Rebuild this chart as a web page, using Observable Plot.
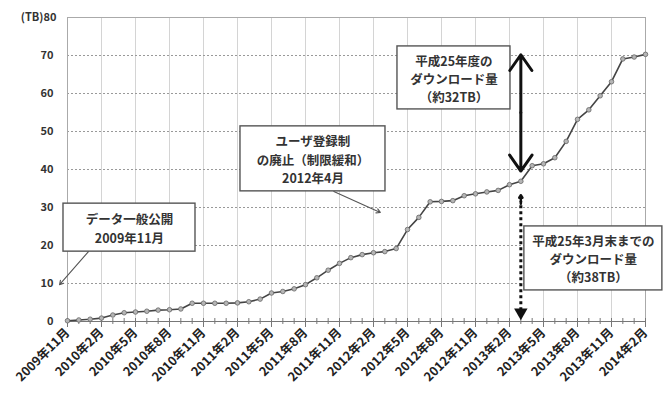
<!DOCTYPE html>
<html>
<head>
<meta charset="utf-8">
<script src="https://cdn.jsdelivr.net/npm/d3@7"></script>
<script src="https://cdn.jsdelivr.net/npm/@observablehq/plot@0.6"></script>
<style>
  html, body { margin: 0; padding: 0; background: #fff; }
</style>
</head>
<body>
<div id="chart"></div>
<script>
// Monthly cumulative download volume (TB), 2009年11月 .. 2014年2月
const values = [
  0.2, 0.4, 0.6, 0.9, 1.7, 2.3, 2.5, 2.7, 3.0, 3.1, 3.3, 4.8,
  4.8, 4.8, 4.8, 4.9, 5.2, 5.9, 7.5, 7.9, 8.6, 9.7, 11.5, 13.5,
  15.3, 16.8, 17.6, 18.1, 18.4, 19.2, 24.2, 27.4, 31.5, 31.6, 31.8, 33.1,
  33.6, 34.1, 34.5, 36.0, 36.9, 41.0, 41.5, 43.1, 47.4, 53.2, 55.7, 59.4,
  63.1, 69.1, 69.6, 70.3
];
const tickLabels = [
  "2009年11月", "2010年2月", "2010年5月", "2010年8月", "2010年11月",
  "2011年2月", "2011年5月", "2011年8月", "2011年11月", "2012年2月",
  "2012年5月", "2012年8月", "2012年11月", "2013年2月", "2013年5月",
  "2013年8月", "2013年11月", "2014年2月"
];
const yTicks = [0, 10, 20, 30, 40, 50, 60, 70];
const yTop = 80;

// annotation texts (anchored in data coordinates: month index, TB)
const noteTexts = [
  "データ一般公開\n2009年11月",
  "ユーザ登録制\nの廃止（制限緩和）\n2012年4月",
  "平成25年度の\nダウンロード量\n（約32TB）",
  "平成25年3月末までの\nダウンロード量\n（約38TB）"
];
const noteX = [5.47, 21.66, 34.1, 46.4];
const noteY = [24.7, 42.8, 64.1, 16.6];
const marchIdx = 40; // 2013年3月

const data = values.map((v, i) => ({i, v}));
const tickIdx = tickLabels.map((_, k) => k * 3);
const months = d3.range(values.length);

const FONT = "'Noto Sans CJK JP', 'Noto Sans', sans-serif";
const boxSize = [[132, 48, 1.5], [145, 65, 1.46], [113, 63, 1.46], [138, 64, 1.46]];

const noteMarks = noteTexts.flatMap((t, k) => {
  const [w, h, lh] = boxSize[k];
  const d = [{x: noteX[k], y: noteY[k], t}];
  return [
    Plot.rect(d, {x1: "x", x2: "x", y1: "y", y2: "y",
      insetLeft: -w / 2, insetRight: -w / 2, insetTop: -h / 2, insetBottom: -h / 2,
      fill: "white", stroke: "#555", strokeWidth: 1.4}),
    Plot.text(d, {x: "x", y: "y", text: "t", lineHeight: lh,
      fontSize: 12.5, fontWeight: "bold", fill: "#333"})
  ];
});

const chart = Plot.plot({
  width: 668,
  height: 397,
  marginLeft: 67,
  marginRight: 23,
  marginTop: 17,
  marginBottom: 76,
  style: {fontFamily: FONT, background: "#fff", color: "#222"},
  x: {domain: [0, values.length - 1]},
  y: {domain: [0, yTop]},
  marks: [
    Plot.ruleX(tickIdx, {stroke: "#d4d4d4", strokeWidth: 1}),
    Plot.ruleY(yTicks.filter(d => d > 0), {stroke: "#999", strokeDasharray: "2,2", strokeWidth: 1}),
    Plot.frame({stroke: "#aaa"}),
    Plot.ruleY([0], {stroke: "#777", strokeWidth: 1.2}),
    Plot.ruleX(months, {y1: 0, y2: 0, insetTop: -3, insetBottom: -3, stroke: "#777"}),
    Plot.ruleX(tickIdx, {y1: 0, y2: 0, insetBottom: -6, stroke: "#777"}),
    Plot.axisY({ticks: yTicks, tickSize: 0, tickPadding: 14, fontSize: 11, fontWeight: "bold", color: "#333", label: null}),
    Plot.axisY({ticks: [yTop], tickSize: 0, tickPadding: 11, tickFormat: d => "(TB)" + d, fontSize: 11, fontWeight: "bold", color: "#333", label: null}),
    Plot.axisX({ticks: tickIdx, tickSize: 0, tickPadding: 9, tickRotate: -45,
      tickFormat: i => tickLabels[i / 3], fontSize: 12.5, fontWeight: "bold", color: "#222", label: null}),
    Plot.line(data, {x: "i", y: "v", stroke: "#444", strokeWidth: 1.6}),
    Plot.dot(data, {x: "i", y: "v", r: 2.3, fill: "#b5b5b5", stroke: "#666", strokeWidth: 0.8}),
    ...noteMarks,
    // arrows from boxes
    Plot.arrow([{x1: 1.85, y1: 18.4, x2: -0.7, y2: 9.7}], {x1: "x1", y1: "y1", x2: "x2", y2: "y2",
      stroke: "#555", strokeWidth: 1.1, headLength: 6}),
    Plot.arrow([{x1: 23.5, y1: 34.2, x2: 27.6, y2: 28.7}], {x1: "x1", y1: "y1", x2: "x2", y2: "y2",
      stroke: "#555", strokeWidth: 1.1, headLength: 6}),
    // solid double arrow: FY2013 volume
    Plot.arrow([{y1: 55, y2: 70.2}, {y1: 55, y2: 39.6}], {x1: () => marchIdx, x2: () => marchIdx, y1: "y1", y2: "y2",
      stroke: "#111", strokeWidth: 3, headLength: 12, headAngle: 70}),
    // dotted double arrow: volume until end of March 2013
    Plot.ruleX([marchIdx], {y1: 2.8, y2: 31.5, stroke: "#111", strokeWidth: 3, strokeDasharray: "3,3"}),
    Plot.arrow([{y1: 31, y2: 33.2}], {x1: () => marchIdx, x2: () => marchIdx, y1: "y1", y2: "y2",
      stroke: "#111", strokeWidth: 2.5, headLength: 10, headAngle: 70}),
    Plot.dot([{y: 2.4}], {x: () => marchIdx, y: "y", symbol: "triangle", rotate: 180, r: 5, fill: "#111"})
  ]
});

document.getElementById("chart").append(chart);
</script>
</body>
</html>
